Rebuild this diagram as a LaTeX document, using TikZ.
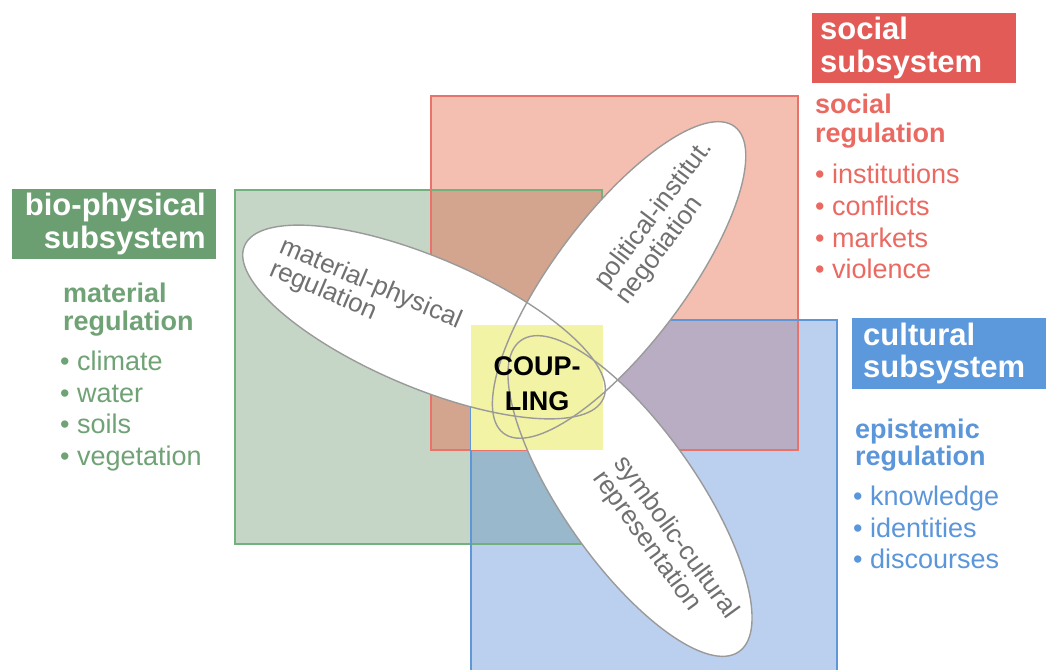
\documentclass[tikz,border=0pt]{standalone}
\usepackage{fontspec}
\setmainfont{Liberation Sans}
\definecolor{gfill}{HTML}{C5D6C6}
\definecolor{rfill}{HTML}{F4BFB0}
\definecolor{bfill}{HTML}{BAD0EE}
\definecolor{grfill}{HTML}{D3A58F}
\definecolor{rbfill}{HTML}{B8ADC2}
\definecolor{gbfill}{HTML}{99B8CB}
\definecolor{grbfill}{HTML}{A69AA6}
\definecolor{gline}{HTML}{72B07C}
\definecolor{rline}{HTML}{E8736A}
\definecolor{bline}{HTML}{5E96D8}
\definecolor{yfill}{HTML}{F2F3A4}
\definecolor{ellgray}{HTML}{9A9A9A}
\definecolor{elltxt}{HTML}{707070}
\definecolor{gtitle}{HTML}{6B9F71}
\definecolor{rtitle}{HTML}{E35B57}
\definecolor{btitle}{HTML}{5C98DC}
\definecolor{gtext}{HTML}{6FA275}
\definecolor{rtext}{HTML}{EA6961}
\definecolor{btext}{HTML}{5B96DA}
\tikzset{
  rectline/.style={line width=1.2pt},
  ellfill/.style={fill=white},
  ellline/.style={draw=ellgray, line width=1.4pt},
  elltext/.style={text=elltxt, font=\fontsize{26}{30}\selectfont, inner sep=0pt, anchor=base west},
  titletext/.style={text=white, font=\bfseries\fontsize{31}{36}\selectfont, inner sep=0pt},
  subhead/.style={font=\bfseries\fontsize{27}{32}\selectfont, inner sep=0pt, anchor=base west},
  item/.style={font=\fontsize{27}{32}\selectfont, inner sep=0pt, anchor=base west},
  coupletext/.style={text=black, font=\bfseries\fontsize{27}{32}\selectfont, inner sep=0pt, anchor=base},
}
\begin{document}
\begin{tikzpicture}[x=1pt,y=-1pt]
\useasboundingbox (0,0) rectangle (1046,669);
\fill[white] (0,0) rectangle (1046,669);
% rectangle fills
\fill[gfill] (235,190) rectangle (602,544);
\fill[rfill] (431,96) rectangle (798,450);
\fill[bfill] (471,320) rectangle (837,680);
\fill[grfill] (431,190) rectangle (602,450);
\fill[rbfill] (471,320) rectangle (798,450);
\fill[gbfill] (471,320) rectangle (602,544);
\fill[grbfill] (471,320) rectangle (602,450);
% rectangle borders
\draw[rectline, draw=gline] (235,190) rectangle (602,544);
\draw[rectline, draw=rline] (431,96) rectangle (798,450);
\draw[rectline, draw=bline] (471,320) rectangle (837,690);
% ellipse centres
\coordinate (c1) at (424,322);
\coordinate (c2) at (619,280);
\coordinate (c3) at (630,496);
% ellipse fills
\path[ellfill, rotate around={-23:(c1)}] (c1) ellipse [x radius=195, y radius=65];
\path[ellfill, rotate around={53:(c2)}] (c2) ellipse [x radius=192, y radius=65];
\path[ellfill, rotate around={-55:(c3)}] (c3) ellipse [x radius=190, y radius=67];
% coupling square
\fill[yfill] (471,325) rectangle (603,450);
% ellipse outlines
\path[ellline, rotate around={-23:(c1)}] (c1) ellipse [x radius=195, y radius=65];
\path[ellline, rotate around={53:(c2)}] (c2) ellipse [x radius=192, y radius=65];
\path[ellline, rotate around={-55:(c3)}] (c3) ellipse [x radius=190, y radius=67];
% ellipse texts
\node[elltext, rotate=-23] (e1a) at (278,252) {material-physical};
\node[elltext, rotate=-23] (e1b) at (268,275) {regulation};
\node[elltext, rotate=53] (e2a) at (606,290) {political-institut.};
\node[elltext, rotate=53] (e2b) at (627,306) {negotiation};
\node[elltext, rotate=-54] (e3a) at (613,463) {symbolic-cultural};
\node[elltext, rotate=-54] (e3b) at (592,478) {representation};
% coupling text
\node[coupletext] (cp1) at (537,375) {COUP-};
\node[coupletext] (cp2) at (537,410) {LING};
% social subsystem
\fill[rtitle] (812,13) rectangle (1016,83);
\node[titletext, anchor=base west] (st1) at (820,40) {social};
\node[titletext, anchor=base west] (st2) at (820,72) {subsystem};
\node[subhead, text=rtext] (sh1) at (815,113) {social};
\node[subhead, text=rtext] (sh2) at (815,142) {regulation};
\node[item, text=rtext] (si1) at (815,183) {• institutions};
\node[item, text=rtext] (si2) at (815,215) {• conflicts};
\node[item, text=rtext] (si3) at (815,247) {• markets};
\node[item, text=rtext] (si4) at (815,278) {• violence};
% bio-physical subsystem
\fill[gtitle] (12,189) rectangle (216,259);
\node[titletext, anchor=base east] (bt1) at (206,215) {bio-physical};
\node[titletext, anchor=base east] (bt2) at (206,248) {subsystem};
\node[subhead, text=gtext] (bh1) at (63,302) {material};
\node[subhead, text=gtext] (bh2) at (63,330) {regulation};
\node[item, text=gtext] (bi1) at (60,370) {• climate};
\node[item, text=gtext] (bi2) at (60,402) {• water};
\node[item, text=gtext] (bi3) at (60,433) {• soils};
\node[item, text=gtext] (bi4) at (60,465) {• vegetation};
% cultural subsystem
\fill[btitle] (852,318) rectangle (1050,389);
\node[titletext, anchor=base west] (ct1) at (863,345) {cultural};
\node[titletext, anchor=base west] (ct2) at (863,377) {subsystem};
\node[subhead, text=btext] (ch1) at (855,438) {epistemic};
\node[subhead, text=btext] (ch2) at (855,465) {regulation};
\node[item, text=btext] (ci1) at (853,505) {• knowledge};
\node[item, text=btext] (ci2) at (853,537) {• identities};
\node[item, text=btext] (ci3) at (853,568) {• discourses};
\end{tikzpicture}
\end{document}
